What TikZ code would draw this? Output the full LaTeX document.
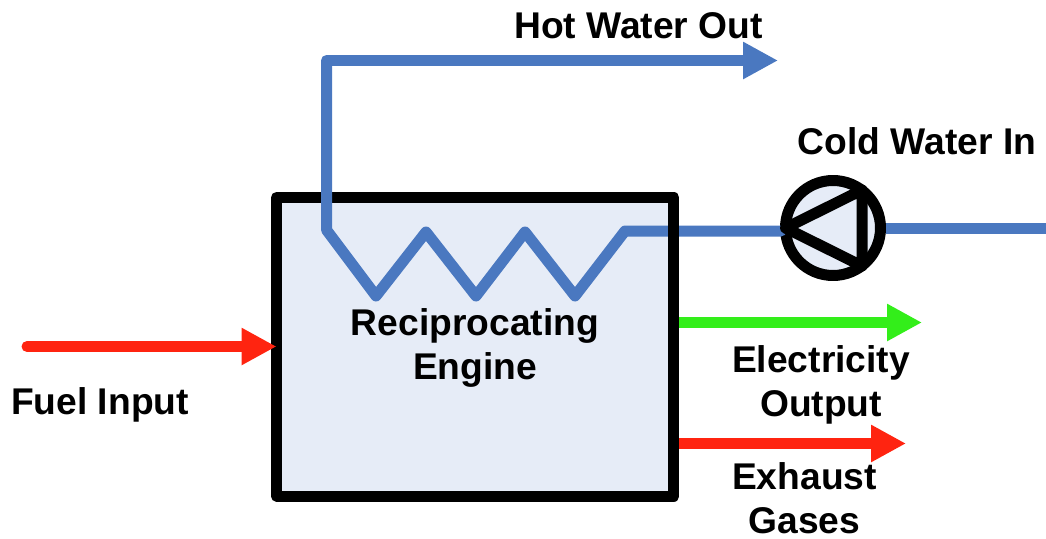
\documentclass[tikz,border=0pt]{standalone}
\usepackage{fontspec}
\setmainfont{Liberation Sans}
\usetikzlibrary{arrows.meta}
\definecolor{pipeblue}{HTML}{4A78C0}
\definecolor{fillblue}{HTML}{E6ECF7}
\definecolor{hotred}{HTML}{FF2410}
\definecolor{elecgreen}{HTML}{33EE1A}
\tikzset{
  heavy/.style={line width=8.25pt,line join=round},
  pipe/.style={heavy,draw=pipeblue},
  flowarrow/.style={line width=8.25pt,line join=round,-{Triangle[length=26.25pt,width=26.25pt]}},
  shell/.style={rectangle,heavy,draw=black,fill=fillblue,inner sep=0pt,outer sep=0pt},
  pumpbody/.style={circle,heavy,draw=black,fill=fillblue,inner sep=0pt,outer sep=0pt,minimum size=71.25pt},
  caption/.style={font=\fontsize{27.9pt}{32.8pt}\selectfont\bfseries,align=center,inner sep=0pt,text=black}
}
\begin{document}
\begin{tikzpicture}[x=0.75pt,y=-0.75pt]
\useasboundingbox (0,0) rectangle (1046,539);
\node[shell,minimum width=298.1pt,minimum height=223.9pt] (engine) at (475.25,346.75) {};
\node[pumpbody] (pump) at (833,228) {};
\coordinate (coilstart) at (326.5,230);
\coordinate (corner) at (326.5,60.5);
\coordinate (hotend) at (778,60.5);
\coordinate (c1) at (376,296);
\coordinate (c2) at (426,232);
\coordinate (c3) at (476,296);
\coordinate (c4) at (525,232);
\coordinate (c5) at (575,296);
\coordinate (c6) at (625,231);
\coordinate (pumpin) at (781,231);
\coordinate (coldend) at (1046,228);
\coordinate (fuelstart) at (27,346.5);
\coordinate (fuelend) at (276.5,346.5);
\coordinate (elecstart) at (674,322.5);
\coordinate (elecend) at (922,322.5);
\coordinate (exhstart) at (674,443.5);
\coordinate (exhend) at (906,443.5);
\coordinate (pt) at (862,190);
\coordinate (pb) at (862,266);
% coil and pipes
\draw[pipe,line cap=round] (pumpin) -- (c6) -- (c5) -- (c4) -- (c3) -- (c2) -- (c1) -- (coilstart) -- (corner);
\draw[flowarrow,pipeblue] (corner) -- (hotend);
\draw[pipe,shorten <=4pt] (pump.east) -- (coldend);
% pump triangle
\draw[heavy] (pump.west) -- (pt) -- (pb) -- cycle;
% energy flows
\draw[flowarrow,hotred,line cap=round] (fuelstart) -- (fuelend);
\draw[flowarrow,elecgreen] (elecstart) -- (elecend);
\draw[flowarrow,hotred] (exhstart) -- (exhend);
\draw[heavy] (engine.north east) -- (engine.south east);
% labels
\node[caption] (hotlabel) at (638.5,26) {Hot Water Out};
\node[caption] (coldlabel) at (917,141) {Cold Water In};
\node[caption] (enginelabel) at (475,348) {Reciprocating\\Engine};
\node[caption] (fuellabel) at (100,405) {Fuel Input};
\node[caption] (eleclabel) at (821,385) {Electricity\\Output};
\node[caption] (exhlabel) at (804.5,498) {Exhaust\\Gases};
\end{tikzpicture}
\end{document}
